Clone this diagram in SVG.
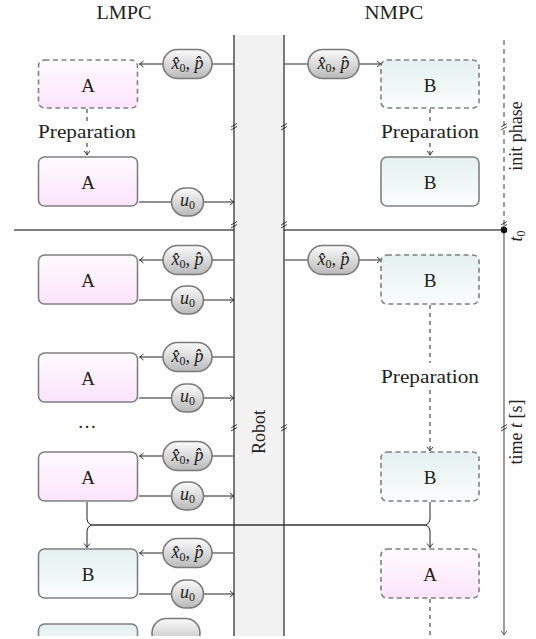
<svg xmlns="http://www.w3.org/2000/svg" width="536" height="639" viewBox="0 0 536 639">
<style>
text{font-family:"Liberation Serif","Times New Roman",serif;fill:#222;}
.lbl{font-size:19px;text-anchor:middle;}
.ptxt{font-size:18px;text-anchor:middle;}
.rtxt{font-size:18px;text-anchor:middle;}
.m{font-style:italic;}
.sub{font-size:12px;}
.boxA{fill:url(#gA);stroke:#808080;stroke-width:1.6;}
.boxB{fill:url(#gB);stroke:#808080;stroke-width:1.6;}
.dash{stroke-dasharray:5 3.5;}
.pill{fill:url(#gP);stroke:#7a7a7a;stroke-width:1.6;}
.feed{stroke:#666;stroke-width:1.4;fill:none;}
.arr{stroke:#222;stroke-width:1;fill:none;}
.prep{stroke:#222;stroke-width:1;fill:none;stroke-dasharray:4 4;}
.brk{stroke:#111;stroke-width:0.8;fill:none;}
</style>
<defs>
<linearGradient id="gA" x1="0" y1="0" x2="0" y2="1"><stop offset="0" stop-color="#fefafe"/><stop offset="1" stop-color="#fce4fc"/></linearGradient>
<linearGradient id="gB" x1="0" y1="0" x2="0" y2="1"><stop offset="0" stop-color="#e4f1f1"/><stop offset="1" stop-color="#fbfdfd"/></linearGradient>
<linearGradient id="gP" x1="0" y1="0" x2="0" y2="1"><stop offset="0" stop-color="#fbfbfb"/><stop offset="1" stop-color="#b9b9b9"/></linearGradient>
<marker id="ah" viewBox="-5 -4 6 8" markerWidth="6" markerHeight="8" refX="0" refY="0" orient="auto" markerUnits="userSpaceOnUse"><path d="M-4,-3 Q-1.2,-0.6 0,0 Q-1.2,0.6 -4,3" fill="none" stroke="#222" stroke-width="0.9"/></marker>
<marker id="ahg" viewBox="-5 -4 6 8" markerWidth="6" markerHeight="8" refX="0" refY="0" orient="auto" markerUnits="userSpaceOnUse"><path d="M-4,-3 Q-1.2,-0.6 0,0 Q-1.2,0.6 -4,3" fill="none" stroke="#555" stroke-width="1"/></marker>
<clipPath id="clip"><rect x="0" y="0" width="536" height="636"/></clipPath>
</defs>
<g clip-path="url(#clip)">
<!-- titles -->
<text class="lbl" x="124" y="19" textLength="55" lengthAdjust="spacingAndGlyphs">LMPC</text>
<text class="lbl" x="394" y="19" textLength="59" lengthAdjust="spacingAndGlyphs">NMPC</text>

<!-- t0 line (behind robot) -->
<line x1="14" y1="230" x2="504" y2="230" stroke="#555" stroke-width="1.3"/>

<!-- robot column -->
<g id="robot">
<rect x="234" y="35" width="50" height="605" fill="#f2f2f2"/>
<line x1="234" y1="35" x2="234" y2="640" stroke="#111" stroke-width="1.1"/>
<line x1="284" y1="35" x2="284" y2="640" stroke="#111" stroke-width="1.1"/>
<text class="rtxt" transform="translate(265,432) rotate(-90)">Robot</text>
</g>

<!-- time axis -->
<g id="axis">
<line x1="504" y1="40" x2="504" y2="230" stroke="#666" stroke-width="1.3" stroke-dasharray="5 4"/>
<line x1="504" y1="230" x2="504" y2="635" stroke="#777" stroke-width="1.4" marker-end="url(#ahg)"/>
<circle cx="504" cy="230" r="3.2" fill="#111"/>
<text class="rtxt" transform="translate(522,136) rotate(-90)">init phase</text>
<text class="rtxt" transform="translate(522,236) rotate(-90)"><tspan class="m">t</tspan><tspan class="sub" dy="3">0</tspan></text>
<text class="rtxt" transform="translate(522,432) rotate(-90)">time <tspan class="m">t</tspan> [s]</text>
</g>

<!-- break marks -->
<g id="breaks">
<path class="brk" d="M231,127 L237,123.5 M231,130 L237,126.5 M281,127 L287,123.5 M281,130 L287,126.5 M501,127 L507,123.5 M501,130 L507,126.5"/>
<path class="brk" d="M231,225 L237,221.5 M231,228 L237,224.5 M281,225 L287,221.5 M281,228 L287,224.5 M501,225 L507,221.5 M501,228 L507,224.5"/>
<path class="brk" d="M231,428 L237,424.5 M231,431 L237,427.5 M281,428 L287,424.5 M281,431 L287,427.5 M501,428 L507,424.5 M501,431 L507,427.5"/>
</g>

<!-- connectors -->
<g id="connectors">
<line class="feed" x1="234" y1="64" x2="212" y2="64"/><line class="arr" x1="163" y1="64" x2="139.5" y2="64" marker-end="url(#ah)"/>
<line class="feed" x1="234" y1="260" x2="212" y2="260"/><line class="arr" x1="163" y1="260" x2="139.5" y2="260" marker-end="url(#ah)"/>
<line class="feed" x1="234" y1="357" x2="212" y2="357"/><line class="arr" x1="163" y1="357" x2="139.5" y2="357" marker-end="url(#ah)"/>
<line class="feed" x1="234" y1="456" x2="212" y2="456"/><line class="arr" x1="163" y1="456" x2="139.5" y2="456" marker-end="url(#ah)"/>
<line class="feed" x1="234" y1="553" x2="212" y2="553"/><line class="arr" x1="163" y1="553" x2="139.5" y2="553" marker-end="url(#ah)"/>
<line class="arr" x1="139" y1="202" x2="172" y2="202"/><line class="arr" x1="203" y1="202" x2="234" y2="202" marker-end="url(#ah)"/>
<line class="arr" x1="139" y1="300" x2="172" y2="300"/><line class="arr" x1="203" y1="300" x2="234" y2="300" marker-end="url(#ah)"/>
<line class="arr" x1="139" y1="398" x2="172" y2="398"/><line class="arr" x1="203" y1="398" x2="234" y2="398" marker-end="url(#ah)"/>
<line class="arr" x1="139" y1="496" x2="172" y2="496"/><line class="arr" x1="203" y1="496" x2="234" y2="496" marker-end="url(#ah)"/>
<line class="arr" x1="139" y1="594" x2="172" y2="594"/><line class="arr" x1="203" y1="594" x2="234" y2="594" marker-end="url(#ah)"/>
<line class="feed" x1="284" y1="64" x2="308" y2="64"/><line class="arr" x1="359" y1="64" x2="381" y2="64" marker-end="url(#ah)"/>
<line class="feed" x1="284" y1="260" x2="308" y2="260"/><line class="arr" x1="359" y1="260" x2="381" y2="260" marker-end="url(#ah)"/>
<path class="prep" d="M87,109 V121 M87,143 V155" stroke-dasharray="3 3" marker-end="url(#ah)"/>
<path class="prep" d="M430,109 V121 M430,143 V155" stroke-dasharray="3 3" marker-end="url(#ah)"/>
<path class="prep" d="M430,305 V363 M430,390 V451" marker-end="url(#ah)"/>
<path class="prep" d="M430,599 V640"/>
<path class="arr" d="M87,502 V519 Q87,523 91,525 Q87,527 87,531 V547.5" marker-end="url(#ah)"/>
<path class="arr" d="M430,502 V519 Q430,523 426,525 Q430,527 430,531 V547.5" marker-end="url(#ah)"/>
<line x1="91" y1="525" x2="426" y2="525" stroke="#333" stroke-width="1.3"/>
</g>

<!-- LMPC nodes -->
<g id="lmpc-a-init"><rect class="boxA dash" x="38.5" y="60" width="99" height="48" rx="6"/><text class="lbl" x="88" y="92">A</text></g>
<text class="lbl" x="87" y="138" textLength="98" lengthAdjust="spacingAndGlyphs">Preparation</text>
<g id="lmpc-a-1"><rect class="boxA" x="38.5" y="157" width="99" height="49" rx="6"/><text class="lbl" x="88" y="189">A</text></g>
<g id="lmpc-a-2"><rect class="boxA" x="38.5" y="255" width="99" height="49" rx="6"/><text class="lbl" x="88" y="287">A</text></g>
<g id="lmpc-a-3"><rect class="boxA" x="38.5" y="353" width="99" height="49" rx="6"/><text class="lbl" x="88" y="385">A</text></g>
<text class="lbl" x="87" y="428">…</text>
<g id="lmpc-a-4"><rect class="boxA" x="38.5" y="452" width="99" height="49" rx="6"/><text class="lbl" x="88" y="484">A</text></g>
<g id="lmpc-b-1"><rect class="boxB" x="38.5" y="549" width="99" height="49" rx="6"/><text class="lbl" x="88" y="581">B</text></g>
<g id="lmpc-b-2"><rect class="boxB" x="38.5" y="624" width="99" height="49" rx="6"/></g>

<!-- NMPC nodes -->
<g id="nmpc-b-init"><rect class="boxB dash" x="381" y="60" width="98" height="48" rx="6"/><text class="lbl" x="430" y="92">B</text></g>
<text class="lbl" x="430" y="138" textLength="98" lengthAdjust="spacingAndGlyphs">Preparation</text>
<g id="nmpc-b-1"><rect class="boxB" x="381" y="157" width="98" height="49" rx="6"/><text class="lbl" x="430" y="189">B</text></g>
<g id="nmpc-b-2"><rect class="boxB dash" x="381" y="255" width="98" height="49" rx="6"/><text class="lbl" x="430" y="287">B</text></g>
<text class="lbl" x="430" y="383" textLength="98" lengthAdjust="spacingAndGlyphs">Preparation</text>
<g id="nmpc-b-3"><rect class="boxB dash" x="381" y="452" width="98" height="49" rx="6"/><text class="lbl" x="430" y="484">B</text></g>
<g id="nmpc-a-1"><rect class="boxA dash" x="381" y="549" width="98" height="49" rx="6"/><text class="lbl" x="430" y="581">A</text></g>

<!-- pills -->
<g id="pill-x-1"><rect class="pill" x="163" y="49.5" width="49" height="29" rx="14.5"/><text class="ptxt" x="187.5" y="69"><tspan class="m">x̂</tspan><tspan class="sub" dy="3">0</tspan><tspan dy="-3">, </tspan><tspan class="m">p̂</tspan></text></g>
<g id="pill-u-1"><rect class="pill" x="171.5" y="188" width="32" height="28" rx="14"/><text class="ptxt" x="187.5" y="206"><tspan class="m">u</tspan><tspan class="sub" dy="3">0</tspan></text></g>
<g id="pill-x-2"><rect class="pill" x="163" y="245.5" width="49" height="29" rx="14.5"/><text class="ptxt" x="187.5" y="265"><tspan class="m">x̂</tspan><tspan class="sub" dy="3">0</tspan><tspan dy="-3">, </tspan><tspan class="m">p̂</tspan></text></g>
<g id="pill-u-2"><rect class="pill" x="171.5" y="286" width="32" height="28" rx="14"/><text class="ptxt" x="187.5" y="304"><tspan class="m">u</tspan><tspan class="sub" dy="3">0</tspan></text></g>
<g id="pill-x-3"><rect class="pill" x="163" y="342.5" width="49" height="29" rx="14.5"/><text class="ptxt" x="187.5" y="362"><tspan class="m">x̂</tspan><tspan class="sub" dy="3">0</tspan><tspan dy="-3">, </tspan><tspan class="m">p̂</tspan></text></g>
<g id="pill-u-3"><rect class="pill" x="171.5" y="384" width="32" height="28" rx="14"/><text class="ptxt" x="187.5" y="402"><tspan class="m">u</tspan><tspan class="sub" dy="3">0</tspan></text></g>
<g id="pill-x-4"><rect class="pill" x="163" y="441.5" width="49" height="29" rx="14.5"/><text class="ptxt" x="187.5" y="461"><tspan class="m">x̂</tspan><tspan class="sub" dy="3">0</tspan><tspan dy="-3">, </tspan><tspan class="m">p̂</tspan></text></g>
<g id="pill-u-4"><rect class="pill" x="171.5" y="482" width="32" height="28" rx="14"/><text class="ptxt" x="187.5" y="500"><tspan class="m">u</tspan><tspan class="sub" dy="3">0</tspan></text></g>
<g id="pill-x-5"><rect class="pill" x="163" y="538.5" width="49" height="29" rx="14.5"/><text class="ptxt" x="187.5" y="558"><tspan class="m">x̂</tspan><tspan class="sub" dy="3">0</tspan><tspan dy="-3">, </tspan><tspan class="m">p̂</tspan></text></g>
<g id="pill-u-5"><rect class="pill" x="171.5" y="580" width="32" height="28" rx="14"/><text class="ptxt" x="187.5" y="598"><tspan class="m">u</tspan><tspan class="sub" dy="3">0</tspan></text></g>
<g id="pill-6"><rect class="pill" x="152" y="618.5" width="48" height="29" rx="14.5"/></g>
<g id="pill-x-r1"><rect class="pill" x="308" y="49.5" width="51" height="29" rx="14.5"/><text class="ptxt" x="333.5" y="69"><tspan class="m">x̂</tspan><tspan class="sub" dy="3">0</tspan><tspan dy="-3">, </tspan><tspan class="m">p̂</tspan></text></g>
<g id="pill-x-r2"><rect class="pill" x="308" y="245.5" width="51" height="29" rx="14.5"/><text class="ptxt" x="333.5" y="265"><tspan class="m">x̂</tspan><tspan class="sub" dy="3">0</tspan><tspan dy="-3">, </tspan><tspan class="m">p̂</tspan></text></g>
</g>
</svg>
